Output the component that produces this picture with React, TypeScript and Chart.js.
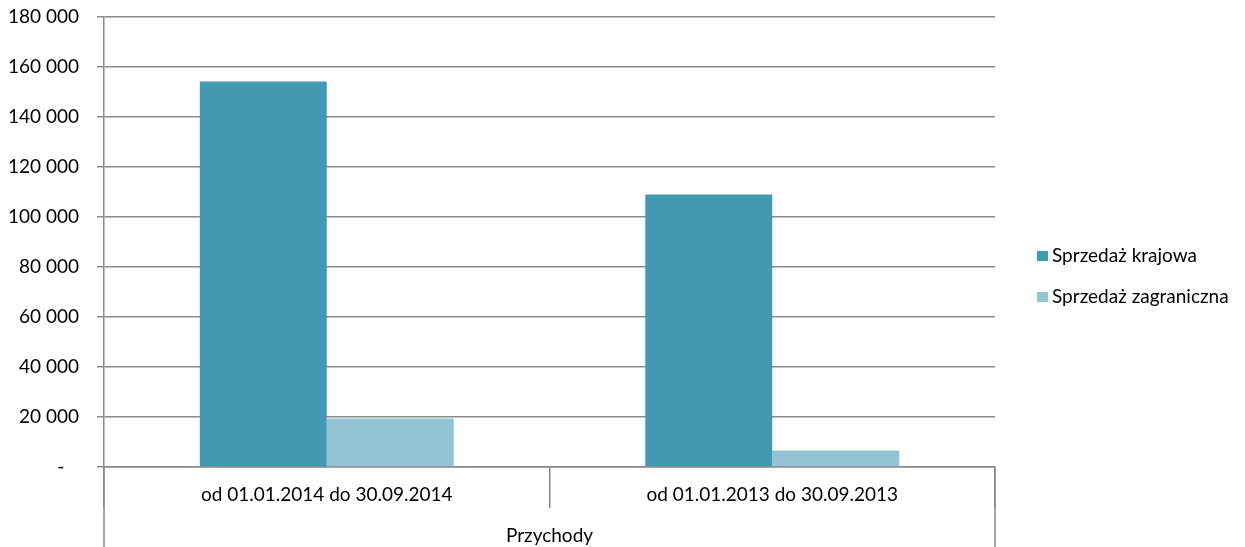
import React, { useEffect, useRef } from 'react';
import { Chart, registerables } from 'chart.js';

Chart.register(...registerables);

const categories = ['od 01.01.2014 do 30.09.2014', 'od 01.01.2013 do 30.09.2013'];
const seriesNames = ['Sprzedaż krajowa', 'Sprzedaż zagraniczna'];
const domesticSales = [154200, 109000];
const foreignSales = [19400, 6600];
const seriesColors = ['#4399B1', '#93C3D5'];
const yMin = 0;
const yMax = 180000;
const yStep = 20000;
const groupLabel = 'Przychody';

const FONT = 'Lato';
const FONT_SIZE = 19;
const GRID = '#8a8a8a';

const formatTick = (v: number) =>
  v === 0 ? '-\u00a0\u00a0\u00a0' : String(v).replace(/\B(?=(\d{3})+(?!\d))/g, ' ');

const extraPlugin = {
  id: 'extras',
  afterDraw(chart: any) {
    const { ctx, chartArea } = chart;
    const h = chart.height;
    ctx.save();
    ctx.strokeStyle = GRID;
    ctx.lineWidth = 1.5;
    ctx.beginPath();
    ctx.moveTo(chartArea.left, chartArea.bottom);
    ctx.lineTo(chartArea.left, h);
    ctx.moveTo(chartArea.right, chartArea.bottom);
    ctx.lineTo(chartArea.right, h);
    ctx.stroke();
    ctx.font = `${FONT_SIZE}px ${FONT}`;
    ctx.textBaseline = 'middle';
    ctx.textAlign = 'left';
    const rowsY = [256, 297];
    chart.data.datasets.forEach((ds: any, i: number) => {
      const y = rowsY[i];
      ctx.fillStyle = ds.backgroundColor;
      ctx.fillRect(1037, y - 5, 11, 10);
      ctx.fillStyle = '#000';
      ctx.fillText(ds.label, 1052, y);
    });
    ctx.restore();
  },
};

export default function App() {
  const ref = useRef<HTMLCanvasElement>(null);
  useEffect(() => {
    if (!ref.current) return;
    Chart.defaults.font.family = FONT;
    Chart.defaults.font.size = FONT_SIZE;
    Chart.defaults.color = '#000';
    const chart = new Chart(ref.current, {
      type: 'bar',
      data: {
        labels: categories,
        datasets: [
          { label: seriesNames[0], data: domesticSales, backgroundColor: seriesColors[0] },
          { label: seriesNames[1], data: foreignSales, backgroundColor: seriesColors[1] },
        ],
      },
      options: {
        animation: false,
        responsive: false,
        maintainAspectRatio: false,
        datasets: { bar: { categoryPercentage: 0.57, barPercentage: 1 } },
        layout: { padding: { top: 17, right: 250, bottom: 0, left: 0 } },
        plugins: { legend: { display: false }, tooltip: { enabled: false } },
        scales: {
          x: {
            grid: {
              offset: true,
              drawOnChartArea: false,
              drawTicks: true,
              tickLength: 41,
              color: GRID,
              lineWidth: 1.5,
            },
            border: { display: true, color: GRID, width: 1.5 },
            ticks: { padding: -25, color: '#000', font: { family: FONT, size: FONT_SIZE } },
            title: {
              display: true,
              text: groupLabel,
              color: '#000',
              font: { family: FONT, size: FONT_SIZE },
              padding: 0,
            },
            afterFit(scale: any) {
              scale.height = 80;
              scale.paddingLeft = 0;
              scale.paddingRight = 0;
            },
          },
          y: {
            min: yMin,
            max: yMax,
            ticks: {
              stepSize: yStep,
              padding: 18,
              color: '#000',
              font: { family: FONT, size: FONT_SIZE },
              callback: (v: any) => formatTick(Number(v)),
            },
            grid: { color: GRID, lineWidth: 1.5, drawTicks: true, tickLength: 7 },
            border: { display: true, color: GRID, width: 1.5 },
            afterFit(scale: any) {
              scale.width = 104;
              scale.paddingTop = 0;
              scale.paddingBottom = 0;
            },
          },
        },
      },
      plugins: [extraPlugin],
    });
    return () => chart.destroy();
  }, []);
  return (
    <div style={{ position: 'fixed', left: 0, top: 0, width: 1245, height: 547, background: '#fff' }}>
      <canvas ref={ref} width={1245} height={547} style={{ display: 'block' }} />
    </div>
  );
}
